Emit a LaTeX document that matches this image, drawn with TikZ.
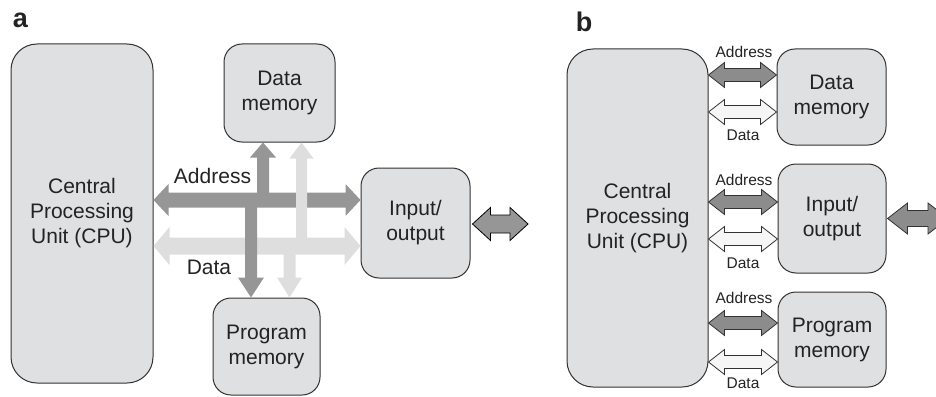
\documentclass[tikz,border=0pt]{standalone}
\usepackage{fontspec}
\setmainfont{Liberation Sans}
\usetikzlibrary{calc}
\definecolor{boxfill}{RGB}{223,224,226}
\definecolor{busdark}{RGB}{150,150,150}
\definecolor{buslight}{RGB}{222,222,222}
\definecolor{bdark}{RGB}{140,140,140}
\definecolor{blight}{RGB}{246,246,246}
\definecolor{edge}{RGB}{50,50,50}
\definecolor{ink}{RGB}{35,35,35}
% horizontal double-headed arrow: style, from, to, shaft half, head half, head length
\newcommand\harrow[6]{\path[#1] let \p1=(#2),\p2=(#3) in
  (\x1,\y1) -- (\x1+#6,\y1+#5) -- (\x1+#6,\y1+#4) -- (\x2-#6,\y1+#4) -- (\x2-#6,\y1+#5)
  -- (\x2,\y1) -- (\x2-#6,\y1-#5) -- (\x2-#6,\y1-#4) -- (\x1+#6,\y1-#4) -- (\x1+#6,\y1-#5) -- cycle;}
% vertical single-headed arrow: style, tail, tip, shaft half, head half, signed head length
\newcommand\varrow[6]{\path[#1] let \p1=(#2),\p2=(#3) in
  (\x2,\y2) -- (\x2+#5,\y2+#6) -- (\x2+#4,\y2+#6) -- (\x1+#4,\y1) -- (\x1-#4,\y1)
  -- (\x2-#4,\y2+#6) -- (\x2-#5,\y2+#6) -- cycle;}
\tikzset{
  box/.style={draw=edge, line width=1pt, fill=boxfill, rounded corners=18pt, align=center,
    inner sep=0pt, text=ink, font=\fontsize{21}{25}\selectfont},
  cpubox/.style={box, rounded corners=26pt},
  biglbl/.style={text=ink, inner sep=0pt, font=\fontsize{21}{25}\selectfont},
  smalllbl/.style={text=ink, inner sep=0pt, font=\fontsize{15.5}{18}\selectfont},
  panellbl/.style={anchor=base, inner sep=0pt, text=ink, font=\fontsize{27}{27}\selectfont\bfseries},
  addrb/.style={fill=bdark, draw=edge, line width=0.8pt},
  datab/.style={fill=blight, draw=edge, line width=0.8pt},
}
\begin{document}
\begin{tikzpicture}[x=1pt,y=-1pt]
\useasboundingbox (0,0) rectangle (936,396);
% ---------- panel a ----------
\node[panellbl] (la) at (20.5,28) {a};
\node[cpubox, minimum width=142pt, minimum height=339pt] (cpua) at (82,213.5) {Central\\Processing\\Unit (CPU)};
\node[box, minimum width=111pt, minimum height=98pt] (dma) at (279.5,93) {Data\\memory};
\node[box, minimum width=109pt, minimum height=110pt] (ioa) at (415.5,223) {Input/\\output};
\node[box, minimum width=107pt, minimum height=97pt] (pma) at (266.5,346.5) {Program\\memory};
% buses
\harrow{fill=busdark}{cpua.east |- 0,200}{ioa.west |- 0,200}{7.5pt}{16pt}{15pt}
\harrow{fill=buslight}{cpua.east |- 0,246}{ioa.west |- 0,246}{8.5pt}{19pt}{16pt}
\coordinate (ta1) at (263,200);
\coordinate (ta2) at (251,200);
\coordinate (td1) at (301.5,246);
\coordinate (td2) at (289.5,246);
\varrow{fill=busdark}{ta2}{pma.north -| ta2}{6pt}{13pt}{20pt}
\varrow{fill=buslight}{td1}{dma.south -| td1}{5.5pt}{12pt}{-16pt}
\varrow{fill=busdark}{ta1}{dma.south -| ta1}{6pt}{13pt}{-15pt}
\varrow{fill=buslight}{td2}{pma.north -| td2}{6pt}{12.5pt}{20pt}
\node[biglbl] (addra) at (212.5,176) {Address};
\node[biglbl] (dataa) at (209,267) {Data};
\coordinate (exa) at (528,224);
\harrow{fill=busdark, draw=black, line width=0.8pt}{$(ioa.east)+(2,1)$}{exa}{9pt}{16.5pt}{18pt}
% ---------- panel b ----------
\node[panellbl] (lb) at (584,31.5) {b};
\node[cpubox, minimum width=141pt, minimum height=338pt] (cpub) at (637.5,218) {Central\\Processing\\Unit (CPU)};
\node[box, minimum width=109pt, minimum height=96pt] (dmb) at (831.5,97) {Data\\memory};
\node[box, minimum width=108pt, minimum height=109pt] (iob) at (832,218.5) {Input/\\output};
\node[box, minimum width=108pt, minimum height=95pt] (pmb) at (832,339.5) {Program\\memory};
\harrow{addrb}{cpub.east |- 0,75}{dmb.west |- 0,75}{6.5pt}{12.5pt}{16pt}
\harrow{datab}{cpub.east |- 0,112}{dmb.west |- 0,112}{6.5pt}{12.5pt}{16pt}
\harrow{addrb}{cpub.east |- 0,202}{iob.west |- 0,202}{6.5pt}{12.5pt}{16pt}
\harrow{datab}{cpub.east |- 0,239}{iob.west |- 0,239}{6.5pt}{12.5pt}{16pt}
\harrow{addrb}{cpub.east |- 0,323}{pmb.west |- 0,323}{6.5pt}{12.5pt}{16pt}
\harrow{datab}{cpub.east |- 0,362}{pmb.west |- 0,362}{6.5pt}{12.5pt}{16pt}
\node[smalllbl] (addrb1) at (744,52) {Address};
\node[smalllbl] (datab1) at (743,135) {Data};
\node[smalllbl] (addrb2) at (744,180) {Address};
\node[smalllbl] (datab2) at (743,263) {Data};
\node[smalllbl] (addrb3) at (744,298) {Address};
\node[smalllbl] (datab3) at (743,383) {Data};
\begin{scope}
\clip (0,0) rectangle (936,396);
\coordinate (exb) at (948,218);
\harrow{addrb}{$(iob.east)+(1,0)$}{exb}{8pt}{15.5pt}{20pt}
\end{scope}
\end{tikzpicture}
\end{document}
